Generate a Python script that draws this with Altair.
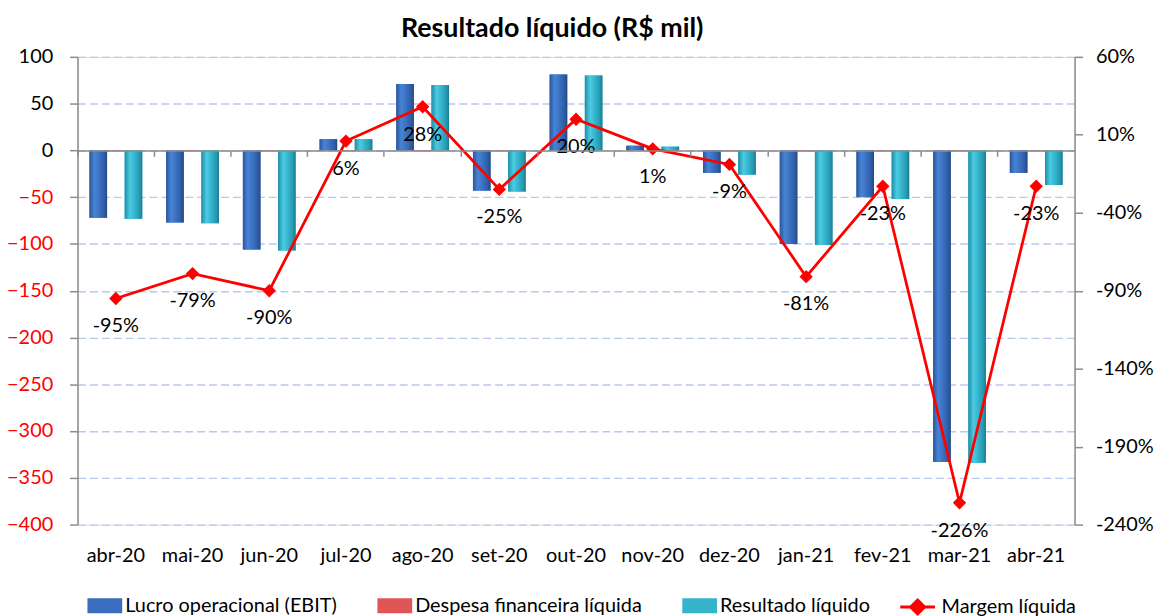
import altair as alt
import pandas as pd

meses = ["abr-20", "mai-20", "jun-20", "jul-20", "ago-20", "set-20", "out-20",
         "nov-20", "dez-20", "jan-21", "fev-21", "mar-21", "abr-21"]
ebit = [-72, -77, -106, 12, 71, -43, 81, 5, -24, -100, -50, -333, -24]
despesa = [-1, -1, -1, -1, -1, -1, -1, -1, -1, -1, -1, -1, -1]
resultado = [-73, -78, -107, 12, 70, -44, 80, 4, -26, -101, -52, -334, -37]
margem = [-95, -79, -90, 6, 28, -25, 20, 1, -9, -81, -23, -226, -23]

series = ["Lucro operacional (EBIT)", "Despesa financeira líquida", "Resultado líquido"]
cores = ["#3a6dbd", "#e05555", "#35b4cc"]
linha_nome = "Margem líquida"
ticks_esq = list(range(-400, 101, 50))
ticks_dir = [-240, -190, -140, -90, -40, 10, 60]

rows = []
for i, m in enumerate(meses):
    for s, vals in zip(series, [ebit, despesa, resultado]):
        rows.append({"mes": m, "serie": s, "valor": vals[i]})
df_bars = pd.DataFrame(rows)
df_line = pd.DataFrame({"mes": meses, "margem": margem,
                        "rotulo": [f"{v}%" for v in margem],
                        "linha": [linha_nome] * len(meses)})

FONT = "Lato"
FS = 20
x_scale = alt.Scale(domain=meses, paddingInner=0, paddingOuter=0)
x_zero = alt.X("mes:N", scale=x_scale, title=None,
               axis=alt.Axis(orient="bottom", labels=False, title=None, domain=True,
                             domainColor="#8c8c8c", domainWidth=1.5, ticks=True,
                             tickColor="#8c8c8c", tickWidth=1.5, tickSize=6, bandPosition=0,
                             offset=-376.8, grid=False, zindex=1))
x_lab = alt.X("mes:N", scale=x_scale, title=None,
              axis=alt.Axis(orient="bottom", title=None, domain=False, ticks=False, grid=False,
                            labelAngle=0, labelFontSize=FS, labelFont=FONT,
                            labelColor="#000000", labelPadding=21))
xo = alt.XOffset("serie:N", scale=alt.Scale(domain=series, paddingInner=0, paddingOuter=0.68))

y_left = alt.Y("valor:Q", scale=alt.Scale(domain=[-400, 100], nice=False, zero=False),
               axis=alt.Axis(values=ticks_esq, title=None, grid=True, gridColor="#b8c8ee",
                             gridDash=[8, 4], gridWidth=1.4, domain=True, domainColor="#8c8c8c",
                             domainWidth=1.5, ticks=True, tickColor="#8c8c8c", tickWidth=1.5,
                             tickSize=8, labelFontSize=FS, labelFont=FONT, labelPadding=17,
                             labelColor={"condition": {"test": "datum.value < 0", "value": "#ff0000"},
                                         "value": "#000000"}))

base_bars = alt.Chart(df_bars).mark_bar().encode(
    x=x_zero, xOffset=xo, y=y_left,
    color=alt.Color("serie:N", scale=alt.Scale(domain=series, range=cores),
                    legend=alt.Legend(title=None, orient="none", legendX=10, legendY=535,
                                      direction="horizontal", symbolType="M-1,-0.43H1V0.43H-1Z",
                                      symbolSize=1225, symbolStrokeWidth=0, symbolOpacity=1,
                                      labelFontSize=FS, labelFont=FONT, labelColor="#000000",
                                      labelOffset=3, columnPadding=40, labelLimit=400))
)

grad_blue = alt.LinearGradient(gradient="linear", x1=0, x2=1, y1=0, y2=0, stops=[
    alt.GradientStop(color="#2b5599", offset=0), alt.GradientStop(color="#4784d6", offset=0.28),
    alt.GradientStop(color="#3c72c2", offset=0.55), alt.GradientStop(color="#2e5ca4", offset=0.85),
    alt.GradientStop(color="#224883", offset=1)])
grad_cyan = alt.LinearGradient(gradient="linear", x1=0, x2=1, y1=0, y2=0, stops=[
    alt.GradientStop(color="#1e8ea6", offset=0), alt.GradientStop(color="#4ccbe2", offset=0.3),
    alt.GradientStop(color="#36b6cf", offset=0.55), alt.GradientStop(color="#2599b0", offset=0.85),
    alt.GradientStop(color="#1b7a8e", offset=1)])

blue_bars = alt.Chart(df_bars).transform_filter(alt.datum.serie == series[0]).mark_bar(
    fill=grad_blue).encode(x=x_zero, xOffset=xo, y=y_left)
cyan_bars = alt.Chart(df_bars).transform_filter(alt.datum.serie == series[2]).mark_bar(
    fill=grad_cyan).encode(x=x_zero, xOffset=xo, y=y_left)

bars_group = alt.layer(base_bars, blue_bars, cyan_bars)

y_right = alt.Y("margem:Q", scale=alt.Scale(domain=[-240, 60], nice=False, zero=False),
                axis=alt.Axis(orient="right", values=ticks_dir, title=None, grid=False,
                              domain=True, domainColor="#8c8c8c", domainWidth=1.5, ticks=True,
                              tickColor="#8c8c8c", tickWidth=1.5, tickSize=8,
                              labelFontSize=FS, labelFont=FONT, labelColor="#000000",
                              labelPadding=13, labelExpr="datum.value + '%'"))

line = alt.Chart(df_line).mark_line(strokeWidth=2.8).encode(
    x=x_lab, y=y_right,
    stroke=alt.Stroke("linha:N", scale=alt.Scale(domain=[linha_nome], range=["#ff0000"]),
                      legend=alt.Legend(title=None, orient="none", legendX=827, legendY=535,
                                        symbolType="M-1,0H1M0,-0.4L0.4,0L0,0.4L-0.4,0Z",
                                        symbolSize=1225, symbolStrokeWidth=3,
                                        symbolFillColor="#ff0000", labelFontSize=FS,
                                        labelFont=FONT, labelColor="#000000", labelOffset=5,
                                        labelLimit=400))
)
points = alt.Chart(df_line).mark_point(shape="diamond", filled=True, size=180, color="#ff0000",
                                       opacity=1).encode(x=x_lab, y=y_right)
labels = alt.Chart(df_line).mark_text(dy=28, fontSize=FS, font=FONT, color="#000000").encode(
    x=x_lab, y=y_right, text="rotulo:N")

line_group = alt.layer(line, points, labels)

chart = alt.layer(bars_group, line_group).resolve_scale(y="independent").resolve_axis(
    x="independent").properties(
    width=1004, height=471, autosize="none",
    padding={"left": 70, "top": 47, "right": 80, "bottom": 110},
    title=alt.TitleParams("Resultado líquido (R$ mil)", fontSize=27, fontWeight="bold",
                          font=FONT, anchor="middle", frame="group", dx=-24, offset=4,
                          color="#000000"),
).configure_view(stroke=None).configure(font=FONT)

chart.save("out.html", embed_options={"renderer": "svg", "actions": False})
